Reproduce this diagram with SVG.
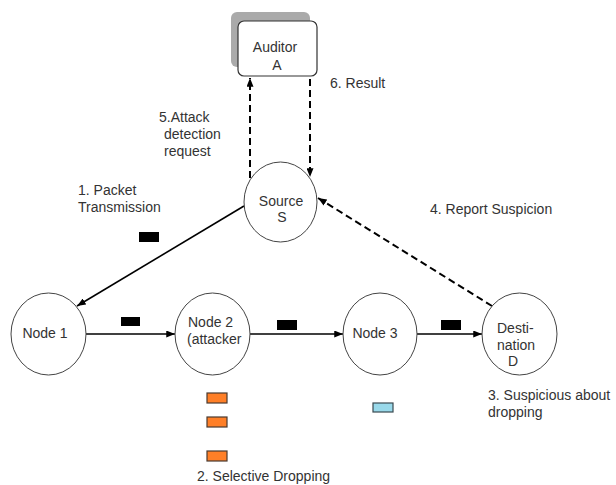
<svg xmlns="http://www.w3.org/2000/svg" width="616" height="485" viewBox="0 0 616 485">
<defs>
<style>
.t{font-family:"Liberation Sans",Arial,sans-serif;font-size:14px;fill:#333;}
.n{fill:#fff;stroke:#444;stroke-width:1;}
.s{stroke:#000;stroke-width:1.6;fill:none;}
.d{stroke:#000;stroke-width:2;fill:none;stroke-dasharray:7 4;}
.pk{fill:#000;}
.or{fill:#ff7f27;stroke:#4a3a30;stroke-width:1.2;}
.bl{fill:#99d9ea;stroke:#3a4a50;stroke-width:1.2;}
</style>
<marker id="ah" viewBox="0 0 10 8" refX="10" refY="4" markerWidth="9" markerHeight="7" markerUnits="userSpaceOnUse" orient="auto">
<path d="M0,0 L10,4 L0,8 Z" fill="#000"/>
</marker>
</defs>
<rect width="616" height="485" fill="#fff"/>

<g id="connectors">
<line class="s" x1="244" y1="206" x2="77" y2="306" marker-end="url(#ah)"/>
<line class="s" x1="86" y1="334" x2="175" y2="334" marker-end="url(#ah)"/>
<line class="s" x1="250" y1="334" x2="343" y2="334" marker-end="url(#ah)"/>
<line class="s" x1="417" y1="334" x2="482" y2="334" marker-end="url(#ah)"/>
<line class="d" x1="492" y1="306" x2="318" y2="198" marker-end="url(#ah)"/>
<line class="d" x1="250" y1="178" x2="250" y2="78" marker-end="url(#ah)"/>
<line class="d" x1="310" y1="79" x2="310" y2="177" marker-end="url(#ah)"/>
</g>

<g id="auditor">
<rect x="231" y="12" width="79" height="55" rx="6" fill="#aaa"/>
<rect x="238" y="21" width="79" height="55" rx="6" fill="#fff" stroke="#333" stroke-width="1.2"/>
<text class="t" x="275" y="52" text-anchor="middle">Auditor</text>
<text class="t" x="277" y="70" text-anchor="middle">A</text>
</g>

<g id="source">
<ellipse class="n" cx="280.5" cy="202" rx="36.5" ry="40"/>
<text class="t" x="281" y="206" text-anchor="middle">Source</text>
<text class="t" x="282" y="222" text-anchor="middle">S</text>
</g>

<g id="node1">
<ellipse class="n" cx="48.5" cy="334" rx="37.5" ry="41"/>
<text class="t" x="45" y="338" text-anchor="middle">Node 1</text>
</g>

<g id="node2">
<ellipse class="n" cx="212.5" cy="334" rx="37.5" ry="41"/>
<text class="t" x="188" y="327">Node 2</text>
<text class="t" x="187" y="344">(attacker</text>
</g>

<g id="node3">
<ellipse class="n" cx="380" cy="334" rx="37" ry="41"/>
<text class="t" x="375" y="338" text-anchor="middle">Node 3</text>
</g>

<g id="destination">
<ellipse class="n" cx="519.5" cy="334" rx="37.5" ry="41"/>
<text class="t" x="497" y="333">Desti-</text>
<text class="t" x="497" y="350">nation</text>
<text class="t" x="508" y="366">D</text>
</g>

<g id="packets">
<rect class="pk" x="139" y="232" width="20" height="10"/>
<rect class="pk" x="121" y="317" width="19" height="9"/>
<rect class="pk" x="277" y="320" width="20" height="10"/>
<rect class="pk" x="441" y="320" width="20" height="10"/>
<rect class="or" x="207" y="393" width="20" height="10"/>
<rect class="or" x="207" y="417" width="20" height="10"/>
<rect class="or" x="207" y="451" width="20" height="10"/>
<rect class="bl" x="373" y="403" width="20" height="9"/>
</g>

<g id="labels">
<text class="t" x="330" y="88">6. Result</text>
<text class="t" x="159" y="122">5.Attack</text>
<text class="t" x="164" y="139">detection</text>
<text class="t" x="164" y="156">request</text>
<text class="t" x="78" y="195">1. Packet</text>
<text class="t" x="78" y="212">Transmission</text>
<text class="t" x="430" y="214">4. Report Suspicion</text>
<text class="t" x="488" y="400">3. Suspicious about</text>
<text class="t" x="488" y="417">dropping</text>
<text class="t" x="197" y="481">2. Selective Dropping</text>
</g>
</svg>
